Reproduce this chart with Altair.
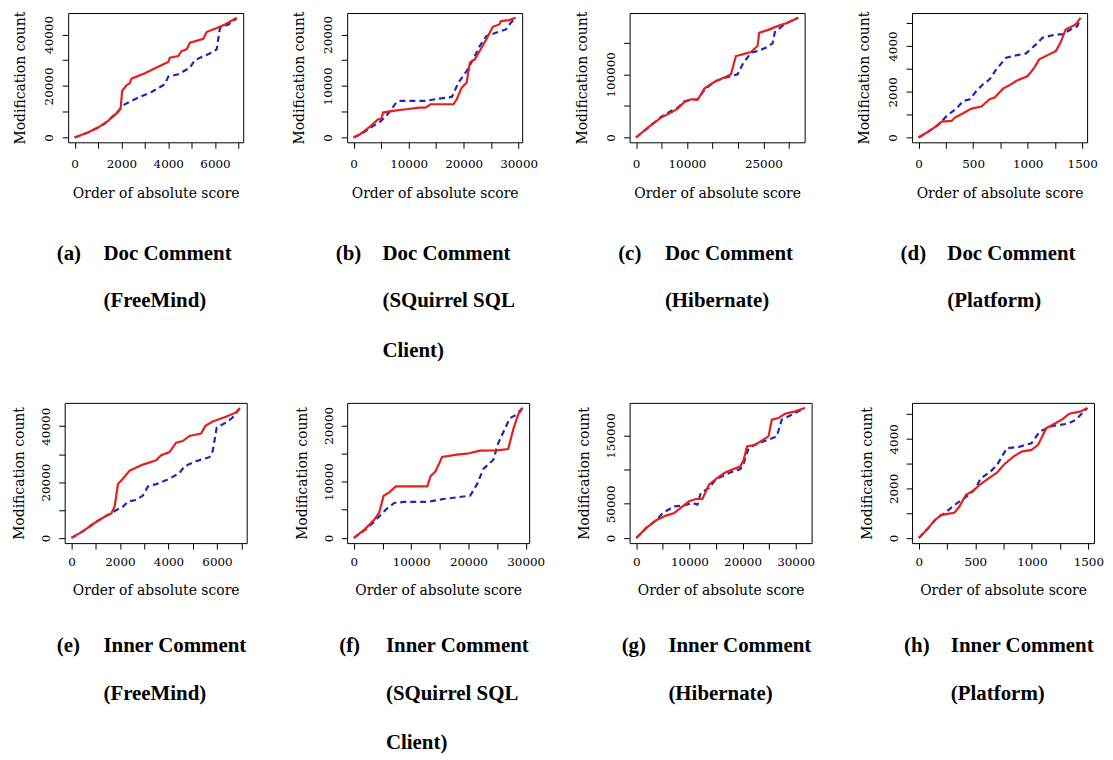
import altair as alt
import pandas as pd

# ---------------- data ----------------
# (a) Doc Comment (FreeMind)
a_red_x = [0, 571, 1000, 1429, 1857, 1971, 2029, 2214, 2357, 2429, 3000, 3571, 4000, 4071, 4429, 4571, 4786, 4929, 5500, 5643, 6000, 6429, 6929]
a_red_y = [0, 1935, 3871, 6452, 9935, 11613, 18065, 20258, 21032, 22839, 24903, 27484, 29290, 30968, 31613, 33548, 34194, 36774, 38323, 40903, 42194, 43871, 46452]
a_blue_x = [0, 571, 1000, 1300, 1600, 1786, 2143, 2714, 3286, 3857, 4000, 4429, 4929, 5143, 5857, 6071, 6214, 6571, 6929]
a_blue_y = [0, 1935, 3871, 5500, 8000, 9500, 12903, 15484, 17677, 20645, 23613, 24516, 27097, 30065, 32903, 34194, 42581, 43871, 46194]

# (b) Doc Comment (SQuirrel SQL Client)
b_red_x = [0, 1190, 2976, 4464, 5060, 5357, 7143, 9524, 11905, 13095, 13988, 18155, 18750, 19643, 20536, 21131, 22024, 22917, 24107, 25298, 26488, 26786, 28274, 29464]
b_red_y = [0, 645, 2129, 3548, 3677, 4839, 5161, 5484, 5806, 5806, 6452, 6452, 7419, 9677, 10645, 14516, 15161, 16774, 19032, 21484, 21935, 22581, 22774, 23226]
b_blue_x = [0, 1786, 3571, 4762, 5952, 7738, 8333, 13095, 15476, 17857, 19048, 20536, 21726, 22917, 24107, 26786, 27679, 28571, 29464]
b_blue_y = [0, 968, 2258, 3032, 4194, 6774, 7097, 7097, 7548, 7871, 10645, 12903, 15161, 17742, 19677, 20645, 20968, 22258, 23226]

# (c) Doc Comment (Hibernate)
c_red_x = [0, 2288, 4902, 6863, 8170, 9477, 10784, 12092, 13399, 15359, 17647, 18627, 19608, 20915, 22549, 23856, 24183, 25817, 27778, 29739, 31830]
c_red_y = [0, 15789, 31579, 39474, 45789, 56316, 60526, 59474, 77368, 87895, 96316, 100000, 128947, 131579, 135263, 144737, 165789, 170000, 176316, 181579, 189474]
c_blue_x = [0, 2288, 4902, 6863, 8170, 9477, 10784, 12092, 13399, 15359, 17647, 18627, 19935, 20915, 22549, 23856, 25490, 26797, 27255, 29085, 31830]
c_blue_y = [0, 15000, 32500, 42000, 47000, 57000, 60000, 60500, 75000, 88500, 95000, 97000, 100000, 115789, 134211, 136842, 142105, 148947, 166842, 178947, 189474]

# (d) Doc Comment (Platform)
d_red_x = [0, 76, 167, 212, 303, 333, 409, 485, 576, 652, 697, 773, 833, 894, 1000, 1061, 1106, 1197, 1258, 1303, 1348, 1439, 1485]
d_red_y = [0, 218, 509, 698, 727, 873, 1062, 1265, 1353, 1673, 1745, 2138, 2284, 2473, 2691, 3055, 3418, 3636, 3782, 4175, 4727, 4945, 5236]
d_blue_x = [0, 76, 167, 212, 258, 348, 409, 470, 530, 591, 652, 712, 803, 894, 985, 1076, 1136, 1258, 1318, 1394, 1455, 1485]
d_blue_y = [0, 218, 509, 698, 945, 1265, 1600, 1673, 2036, 2327, 2545, 2982, 3491, 3593, 3680, 4073, 4364, 4509, 4509, 4727, 4873, 5236]

# (e) Inner Comment (FreeMind)
e_red_x = [0, 479, 1027, 1438, 1644, 1781, 1918, 2123, 2397, 2945, 3493, 3699, 4041, 4315, 4589, 4863, 5342, 5521, 5822, 6370, 6781, 6945]
e_red_y = [0, 2410, 5783, 7952, 8795, 11205, 19277, 21205, 24096, 26265, 27831, 29639, 30723, 34096, 34699, 36506, 37349, 40120, 41687, 43373, 44940, 46506]
e_blue_x = [0, 479, 1027, 1438, 1644, 1781, 2123, 2329, 2671, 2945, 3151, 3493, 4041, 4452, 4658, 5137, 5685, 5822, 5986, 6370, 6644, 6945]
e_blue_y = [0, 2410, 5783, 7952, 8795, 9639, 11205, 13012, 13614, 15181, 18434, 19277, 21205, 23253, 25663, 27470, 28916, 31084, 39518, 41325, 43133, 46506]

# (f) Inner Comment (SQuirrel SQL Client)
f_red_x = [0, 1846, 3578, 4443, 5200, 6174, 7328, 12810, 13388, 14253, 15407, 18003, 19734, 22043, 24928, 26947, 27813, 28678, 29429]
f_red_y = [0, 1479, 3254, 4556, 7500, 8107, 9172, 9172, 10947, 11834, 14379, 14793, 14970, 15503, 15562, 15799, 19231, 21893, 23077]
f_blue_x = [0, 2424, 4155, 5886, 7040, 8771, 12810, 15695, 18003, 20312, 21466, 22620, 24351, 25216, 27236, 28390, 29429]
f_blue_y = [0, 1775, 3550, 5325, 6213, 6391, 6391, 6923, 7219, 7515, 9467, 12249, 13905, 16864, 21302, 21893, 23077]

# (g) Inner Comment (Hibernate)
g_red_x = [0, 1867, 3734, 5601, 7156, 8712, 9957, 11201, 12446, 13690, 15246, 16801, 19602, 20224, 20846, 22402, 24891, 25513, 26758, 28002, 29869, 31736]
g_red_y = [0, 14634, 25854, 32683, 36585, 46341, 53659, 57073, 57073, 78049, 87805, 96098, 104878, 114634, 134146, 136585, 148780, 173171, 175610, 181951, 185366, 190244]
g_blue_x = [0, 1867, 3734, 4978, 7156, 8961, 10579, 11512, 12134, 13690, 14935, 17424, 19602, 20224, 21157, 23024, 24891, 26447, 27380, 29869, 31736]
g_blue_y = [0, 14634, 25854, 36585, 46341, 47317, 51220, 48780, 65854, 73171, 85366, 95122, 100976, 109756, 131707, 139024, 143902, 148780, 173171, 182927, 190244]

# (h) Inner Comment (Platform)
h_red_x = [0, 81, 140, 198, 241, 314, 358, 416, 488, 547, 605, 692, 750, 837, 910, 997, 1055, 1128, 1201, 1273, 1331, 1433, 1491]
h_red_y = [0, 378, 716, 919, 959, 1014, 1257, 1730, 1932, 2176, 2365, 2635, 2946, 3284, 3486, 3554, 3757, 4432, 4608, 4797, 5014, 5108, 5243]
h_blue_x = [0, 81, 169, 227, 314, 387, 459, 503, 547, 634, 692, 779, 895, 997, 1070, 1186, 1317, 1390, 1491]
h_blue_y = [0, 378, 851, 986, 1324, 1554, 1797, 2000, 2405, 2676, 2946, 3622, 3689, 3824, 4297, 4527, 4608, 4770, 5243]

# tick values and the ones that carry a label
x_ticks = {
    "a": [0, 1000, 2000, 3000, 4000, 5000, 6000, 7000],
    "b": [0, 5000, 10000, 15000, 20000, 25000, 30000],
    "c": [0, 5000, 10000, 15000, 20000, 25000, 30000],
    "d": [0, 250, 500, 750, 1000, 1250, 1500],
    "e": [0, 1000, 2000, 3000, 4000, 5000, 6000, 7000],
    "f": [0, 5000, 10000, 15000, 20000, 25000, 30000],
    "g": [0, 5000, 10000, 15000, 20000, 25000, 30000],
    "h": [0, 250, 500, 750, 1000, 1250, 1500],
}
x_labels = {
    "a": [0, 2000, 4000, 6000],
    "b": [0, 10000, 20000, 30000],
    "c": [0, 10000, 25000],
    "d": [0, 500, 1000, 1500],
    "e": [0, 2000, 4000, 6000],
    "f": [0, 10000, 20000, 30000],
    "g": [0, 10000, 20000, 30000],
    "h": [0, 500, 1000, 1500],
}
y_ticks = {
    "a": [0, 10000, 20000, 30000, 40000],
    "b": [0, 5000, 10000, 15000, 20000],
    "c": [0, 50000, 100000, 150000],
    "d": [0, 1000, 2000, 3000, 4000, 5000],
    "e": [0, 10000, 20000, 30000, 40000],
    "f": [0, 5000, 10000, 15000, 20000],
    "g": [0, 50000, 100000, 150000],
    "h": [0, 1000, 2000, 3000, 4000, 5000],
}
y_labels = {
    "a": [0, 20000, 40000],
    "b": [0, 10000, 20000],
    "c": [0, 100000],
    "d": [0, 2000, 4000],
    "e": [0, 20000, 40000],
    "f": [0, 10000, 20000],
    "g": [0, 50000, 150000],
    "h": [0, 2000, 4000],
}

panel_tags = ["(a)", "(b)", "(c)", "(d)", "(e)", "(f)", "(g)", "(h)"]
caption_lines = [
    ["Doc Comment", "(FreeMind)"],
    ["Doc Comment", "(SQuirrel SQL", "Client)"],
    ["Doc Comment", "(Hibernate)"],
    ["Doc Comment", "(Platform)"],
    ["Inner Comment", "(FreeMind)"],
    ["Inner Comment", "(SQuirrel SQL", "Client)"],
    ["Inner Comment", "(Hibernate)"],
    ["Inner Comment", "(Platform)"],
]

x_title = "Order of absolute score"
y_title = "Modification count"

series = {
    "a": (a_red_x, a_red_y, a_blue_x, a_blue_y),
    "b": (b_red_x, b_red_y, b_blue_x, b_blue_y),
    "c": (c_red_x, c_red_y, c_blue_x, c_blue_y),
    "d": (d_red_x, d_red_y, d_blue_x, d_blue_y),
    "e": (e_red_x, e_red_y, e_blue_x, e_blue_y),
    "f": (f_red_x, f_red_y, f_blue_x, f_blue_y),
    "g": (g_red_x, g_red_y, g_blue_x, g_blue_y),
    "h": (h_red_x, h_red_y, h_blue_x, h_blue_y),
}

RED = "#e3201c"
BLUE = "#2424b8"

ROW_STYLE = {
    0: dict(w=176, h=130, xlp=10, xtp=17, ylp=9.5, ytp=15, tag_dx=-11.5, txt_dx=35.5,
            line_y=[242, 290, 340]),
    1: dict(w=183, h=141, xlp=8, xtp=16, ylp=9, ytp=13, tag_dx=-8, txt_dx=39,
            line_y=[244, 293, 342]),
}


def label_expr(vals):
    return "indexof([" + ",".join(str(v) for v in vals) + "], datum.value) >= 0 ? datum.label : ''"


def make_panel(i, key):
    row = 0 if i < 4 else 1
    st = ROW_STYLE[row]
    rx, ry, bx, by = series[key]
    xmax = max(max(rx), max(bx))
    ymax = max(max(ry), max(by))
    xs = alt.Scale(domain=[-0.04 * xmax, 1.04 * xmax], nice=False, zero=False)
    ys = alt.Scale(domain=[-0.04 * ymax, 1.04 * ymax], nice=False, zero=False)
    xa = alt.Axis(values=x_ticks[key], labelExpr=label_expr(x_labels[key]), format="d",
                  title=x_title, labelPadding=st["xlp"], titlePadding=st["xtp"])
    ya = alt.Axis(values=y_ticks[key], labelExpr=label_expr(y_labels[key]), format="d",
                  title=y_title, labelAngle=270, labelAlign="center", labelBaseline="alphabetic",
                  labelPadding=st["ylp"], titlePadding=st["ytp"])
    red = pd.DataFrame({"x": rx, "y": ry})
    blue = pd.DataFrame({"x": bx, "y": by})
    blue_line = alt.Chart(blue).mark_line(color=BLUE, strokeWidth=2.2, strokeDash=[6, 4]).encode(
        x=alt.X("x:Q", scale=xs, axis=xa), y=alt.Y("y:Q", scale=ys, axis=ya))
    red_line = alt.Chart(red).mark_line(color=RED, strokeWidth=2.2).encode(
        x=alt.X("x:Q", scale=xs, axis=xa), y=alt.Y("y:Q", scale=ys, axis=ya))
    txt_kw = dict(align="left", baseline="middle", font="Liberation Serif", fontSize=21,
                  fontWeight="bold", color="black")
    texts = [alt.Chart(pd.DataFrame({"t": [panel_tags[i]]})).mark_text(**txt_kw).encode(
        text="t:N", x=alt.value(st["tag_dx"]), y=alt.value(st["line_y"][0]))]
    for j, line in enumerate(caption_lines[i]):
        texts.append(alt.Chart(pd.DataFrame({"t": [line]})).mark_text(**txt_kw).encode(
            text="t:N", x=alt.value(st["txt_dx"]), y=alt.value(st["line_y"][j])))
    return alt.layer(blue_line, red_line, *texts).properties(width=st["w"], height=st["h"])


panels = [make_panel(i, k) for i, k in enumerate("abcdefgh")]

chart = alt.concat(
    *panels, columns=4,
    spacing=alt.RowColnumber(row=262, column=101),
    bounds="flush", center=True,
).properties(
    padding={"left": 4, "top": 0, "right": 0, "bottom": 0}
).configure_view(
    stroke="black", strokeWidth=1
).configure_axis(
    domain=False, grid=False, ticks=True, tickColor="black", tickSize=6, tickWidth=1,
    labelColor="black", labelFont="DejaVu Serif", labelFontSize=12,
    titleFont="DejaVu Serif", titleFontSize=14, titleFontWeight="normal", titleColor="black",
    labelFlush=False, labelOverlap=False,
)

chart.save("out.html", embed_options={"renderer": "svg", "actions": False})
